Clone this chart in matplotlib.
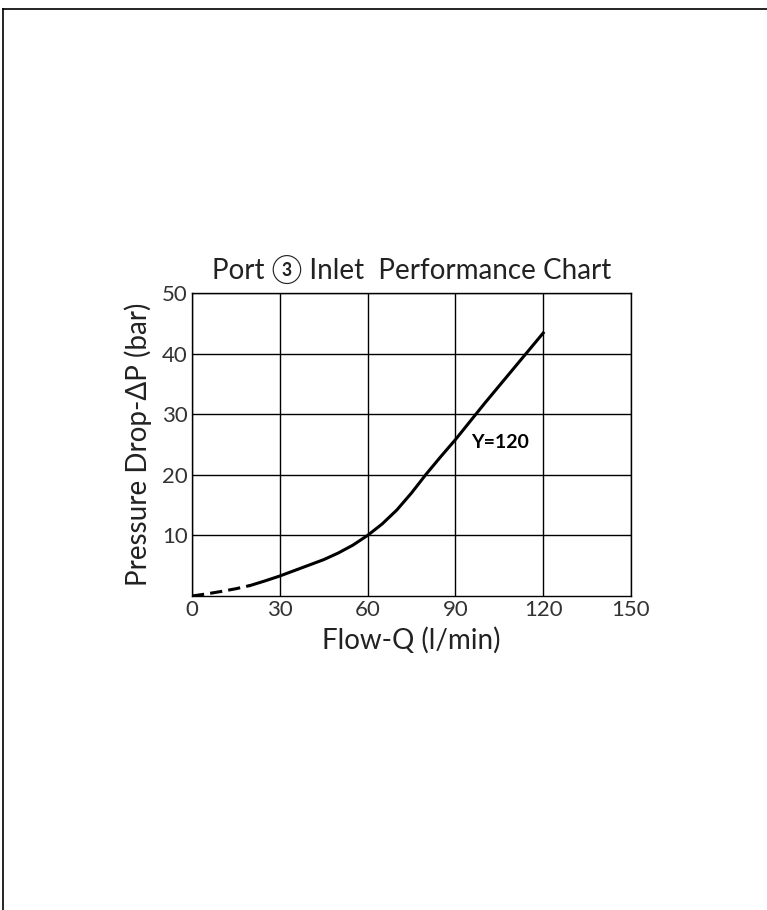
import matplotlib
matplotlib.use("Agg")
import matplotlib.pyplot as plt
from matplotlib.lines import Line2D

plt.rcParams['font.family'] = ['Lato', 'DejaVu Sans']

# flow (l/min) vs pressure drop (bar)
flow_dashed = [0, 5, 10, 15, 20]
dp_dashed = [0.0, 0.35, 0.75, 1.2, 1.75]
flow_solid = [20, 25, 30, 35, 40, 45, 50, 55, 60, 65, 70, 75, 80, 85, 90,
              95, 100, 105, 110, 115, 120]
dp_solid = [1.75, 2.5, 3.3, 4.2, 5.1, 6.0, 7.1, 8.4, 10.0, 11.9, 14.2, 17.0,
            20.1, 23.0, 25.8, 28.8, 31.8, 34.7, 37.6, 40.5, 43.4]

x_ticks = [0, 30, 60, 90, 120, 150]
y_ticks = [10, 20, 30, 40, 50]

W, H = 767, 910
fig = plt.figure(figsize=(W / 100, H / 100), dpi=100)
ax = fig.add_axes([192 / W, 1 - 596 / H, 439 / W, 303 / H])

ax.plot(flow_dashed, dp_dashed, color="black", lw=2.2, ls=(0, (4, 2)))
ax.plot(flow_solid, dp_solid, color="black", lw=2.2, solid_joinstyle="round")

ax.set_xlim(0, 150)
ax.set_ylim(0, 50)
ax.set_xticks(x_ticks)
ax.set_yticks(y_ticks)
ax.tick_params(length=0, labelsize=16, pad=3, colors="#333333")
ax.grid(True, color="black", lw=1.0)
for s in ax.spines.values():
    s.set_linewidth(1.0)

ax.set_xlabel("Flow-Q (l/min)", fontsize=20, labelpad=5, color="#222222")
ax.set_ylabel("Pressure Drop-\u0394P (bar)", fontsize=20, labelpad=7,
              color="#222222")
ax.set_title("Port \u2462 Inlet  Performance Chart", fontsize=20, pad=10,
             color="#222222")
ax.text(95.5, 25.4, "Y=120", fontsize=14, fontweight="bold", va="center")

# page border (top and left only)
fig.add_artist(Line2D([3.5 / W, 1], [1 - 8.5 / H, 1 - 8.5 / H],
                      transform=fig.transFigure, color="black", lw=1.2))
fig.add_artist(Line2D([3.5 / W, 3.5 / W], [0, 1 - 8.5 / H],
                      transform=fig.transFigure, color="black", lw=1.2))

fig.savefig("out.png", dpi=100)
